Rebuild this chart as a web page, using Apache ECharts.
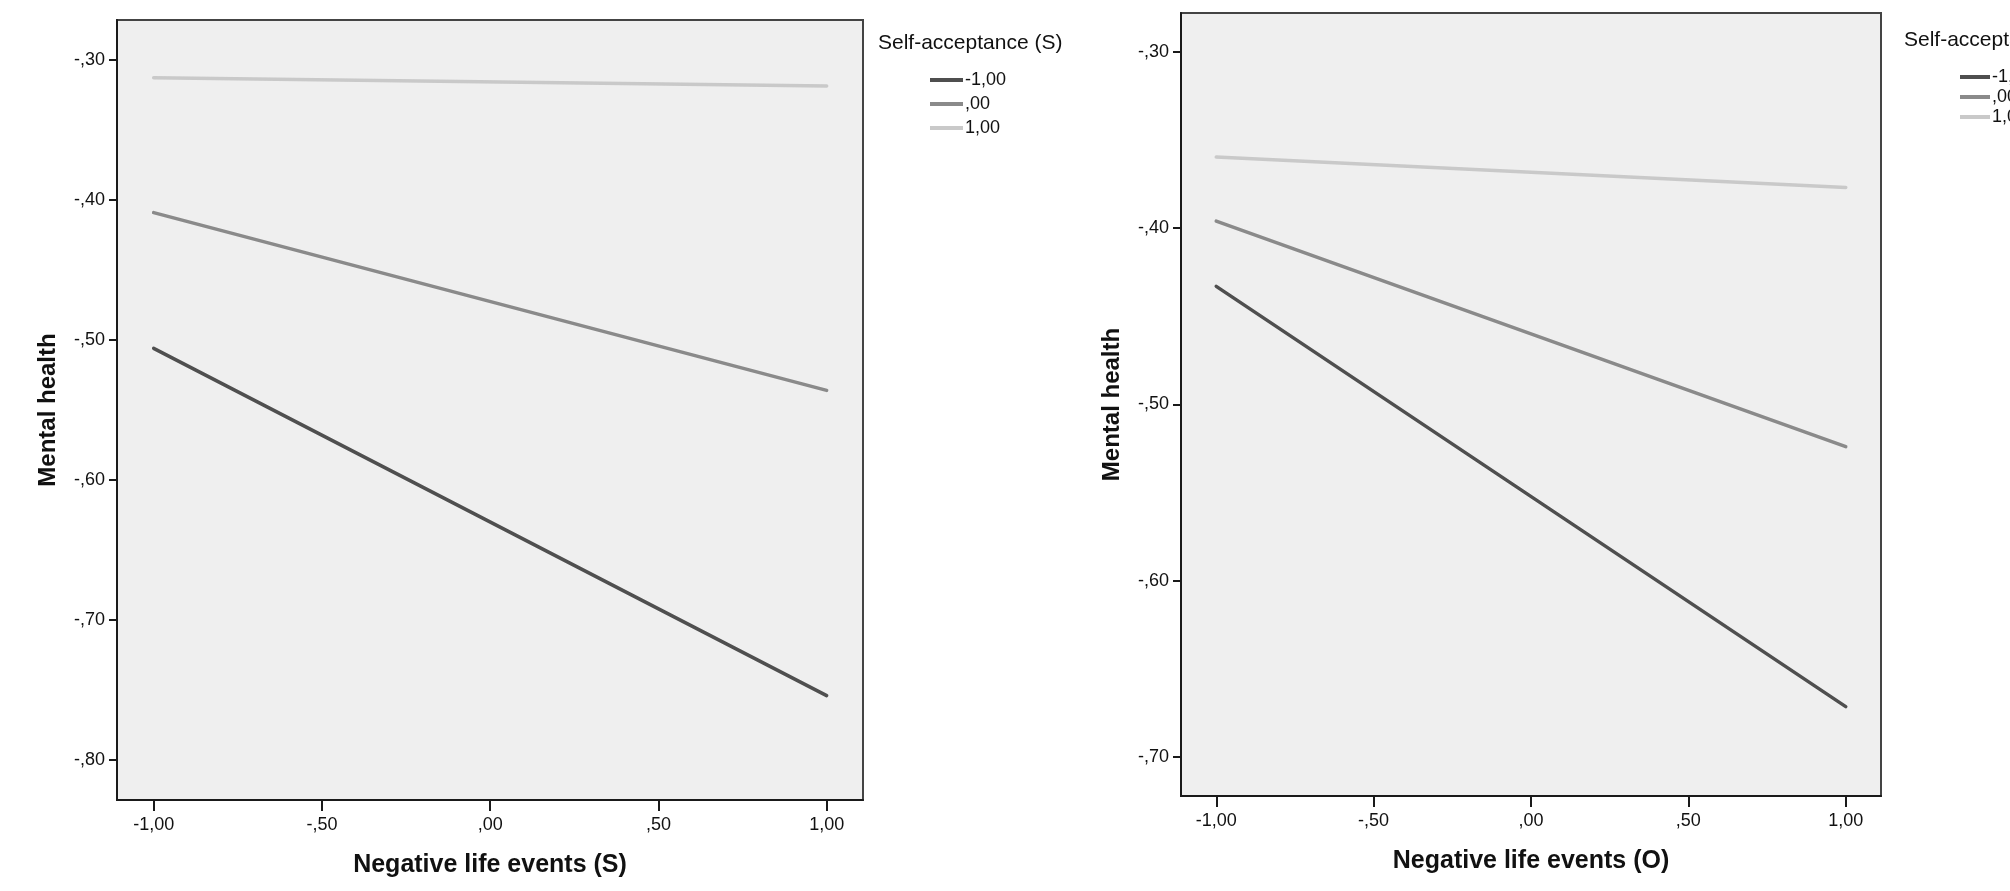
<!DOCTYPE html>
<html>
<head>
<meta charset="utf-8">
<script src="https://cdn.jsdelivr.net/npm/echarts@6/dist/echarts.min.js"></script>
<style>
  html, body { margin: 0; padding: 0; background: #ffffff; }
  #chart { width: 2010px; height: 891px; }
</style>
</head>
<body>
<div id="chart"></div>
<script>
// ---- data ----
const xValues = [-1, 1];
const seriesNames = ['-1,00', ',00', '1,00'];
const xTicks = [-1, -0.5, 0, 0.5, 1];

// Left panel: Negative life events (S)
const leftLow  = [-0.506, -0.754];
const leftMid  = [-0.409, -0.536];
const leftHigh = [-0.3126, -0.3186];
const leftYTicks = [-0.8, -0.7, -0.6, -0.5, -0.4, -0.3];

// Right panel: Negative life events (O)
const rightLow  = [-0.433, -0.6715];
const rightMid  = [-0.396, -0.524];
const rightHigh = [-0.3596, -0.3769];
const rightYTicks = [-0.7, -0.6, -0.5, -0.4, -0.3];

const leftXTitle = 'Negative life events (S)';
const rightXTitle = 'Negative life events (O)';
const yTitle = 'Mental health';
const legendTitle = 'Self-acceptance (S)';

// ---- styling ----
const FONT = "'Liberation Sans', Arial, sans-serif";
const colors = ['#4f4f4f', '#8a8a8a', '#c9c9c9'];

function spss(v) {
  let s = Math.abs(v).toFixed(2).replace('.', ',');
  if (s.startsWith('0,')) s = s.slice(1);
  return (v < 0 ? '-' : '') + s;
}
function pts(ys) { return xValues.map((x, i) => [x, ys[i]]); }

function xAxis(gridIndex, name, min, max) {
  return {
    type: 'value', gridIndex, min, max, name,
    nameLocation: 'middle', nameGap: 53,
    nameTextStyle: { fontFamily: FONT, fontWeight: 'bold', fontSize: 25, color: '#111' },
    axisLine: { show: true, onZero: false, lineStyle: { color: '#1a1a1a', width: 2 } },
    axisTick: { show: true, length: 11, customValues: xTicks, lineStyle: { color: '#1a1a1a', width: 2 } },
    axisLabel: { customValues: xTicks, formatter: spss, margin: 16, fontFamily: FONT, fontSize: 18, color: '#111' },
    splitLine: { show: false }
  };
}
function yAxis(gridIndex, min, max, ticks) {
  return {
    type: 'value', gridIndex, min, max, name: yTitle,
    nameLocation: 'middle', nameGap: 57,
    nameTextStyle: { fontFamily: FONT, fontWeight: 'bold', fontSize: 24, color: '#111' },
    axisLine: { show: true, onZero: false, lineStyle: { color: '#1a1a1a', width: 2 } },
    axisTick: { show: true, length: 8, customValues: ticks, lineStyle: { color: '#1a1a1a', width: 2 } },
    axisLabel: { customValues: ticks, formatter: spss, margin: 12, fontFamily: FONT, fontSize: 18, color: '#111' },
    splitLine: { show: false }
  };
}
function line(name, data, idx, color) {
  return {
    type: 'line', name, data, xAxisIndex: idx, yAxisIndex: idx,
    showSymbol: false, symbol: 'none', silent: true,
    lineStyle: { color, width: 3.5, cap: 'round' },
    itemStyle: { color },
    animation: false
  };
}

const chart = echarts.init(document.getElementById('chart'), null, { renderer: 'canvas' });
chart.setOption({
  backgroundColor: '#ffffff',
  animation: false,
  title: [
    { text: legendTitle, left: 878, top: 33, textStyle: { fontFamily: FONT, fontSize: 21, fontWeight: 'normal', color: '#111' }, padding: 0 },
    { text: legendTitle, left: 1904, top: 30, textStyle: { fontFamily: FONT, fontSize: 21, fontWeight: 'normal', color: '#111' }, padding: 0 }
  ],
  legend: [
    { data: seriesNames, orient: 'vertical', left: 930, top: 71, itemWidth: 33, itemHeight: 4, itemGap: 6, icon: 'rect', padding: 0,
      textStyle: { fontFamily: FONT, fontSize: 18, lineHeight: 18, color: '#111', padding: [0, 0, 0, -3] }, selectedMode: false },
    { data: seriesNames, orient: 'vertical', left: 1960, top: 68, itemWidth: 30, itemHeight: 4, itemGap: 2, icon: 'rect', padding: 0,
      textStyle: { fontFamily: FONT, fontSize: 18, lineHeight: 18, color: '#111', padding: [0, 0, 0, -3] }, selectedMode: false }
  ],
  grid: [
    { left: 117, top: 20, width: 746, height: 780, show: true, backgroundColor: '#efefef', borderColor: '#444', borderWidth: 2 },
    { left: 1181, top: 13, width: 700, height: 783, show: true, backgroundColor: '#efefef', borderColor: '#444', borderWidth: 2 }
  ],
  xAxis: [
    xAxis(0, leftXTitle, -1.109, 1.108),
    xAxis(1, rightXTitle, -1.112, 1.112)
  ],
  yAxis: [
    yAxis(0, -0.8286, -0.2714, leftYTicks),
    yAxis(1, -0.7222, -0.2779, rightYTicks)
  ],
  series: [
    line(seriesNames[0], pts(leftLow), 0, colors[0]),
    line(seriesNames[1], pts(leftMid), 0, colors[1]),
    line(seriesNames[2], pts(leftHigh), 0, colors[2]),
    line(seriesNames[0], pts(rightLow), 1, colors[0]),
    line(seriesNames[1], pts(rightMid), 1, colors[1]),
    line(seriesNames[2], pts(rightHigh), 1, colors[2])
  ]
});
</script>
</body>
</html>
